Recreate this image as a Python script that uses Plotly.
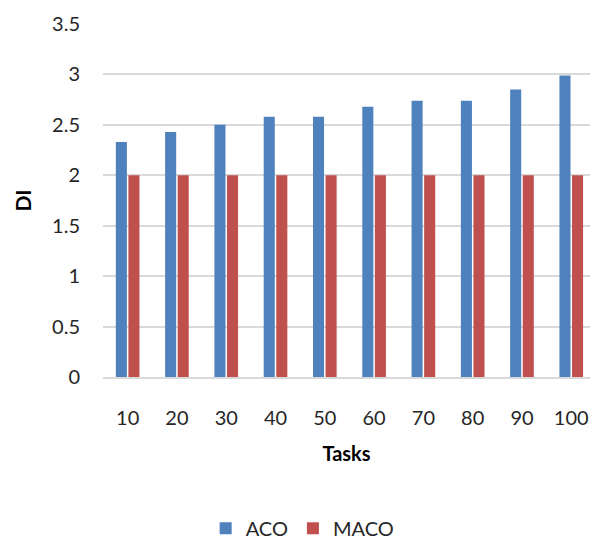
import plotly.graph_objects as go

tasks = ["10", "20", "30", "40", "50", "60", "70", "80", "90", "100"]
aco = [2.33, 2.43, 2.5, 2.58, 2.58, 2.68, 2.74, 2.74, 2.85, 2.99]
maco = [2, 2, 2, 2, 2, 2, 2, 2, 2, 2]
y_ticks = [0, 0.5, 1, 1.5, 2, 2.5, 3, 3.5]
y_tick_text = ["0", "0.5", "1", "1.5", "2", "2.5", "3", "3.5"]

FONT = "Lato, Open Sans, sans-serif"
TXT = "#262626"

fig = go.Figure()
fig.add_trace(go.Bar(x=tasks, y=aco, name="ACO", marker=dict(color="#4F81BD", line=dict(width=0))))
fig.add_trace(go.Bar(x=tasks, y=maco, name="MACO", marker=dict(color="#C0504D", line=dict(width=0))))

fig.update_layout(
    width=590, height=539,
    margin=dict(l=103, r=0, t=24, b=162, autoexpand=False),
    paper_bgcolor="white", plot_bgcolor="white",
    barmode="group", bargap=0.49, bargroupgap=0.12,
    font=dict(family=FONT, size=20, color=TXT),
    showlegend=True,
    legend=dict(orientation="h", xref="container", x=0.513, xanchor="center",
                yref="container", y=0.02, yanchor="middle",
                font=dict(size=20, color=TXT), traceorder="normal"),
    xaxis=dict(type="category", range=[-0.5, 9.38], showgrid=False,
               showline=True, linecolor="#d9d9d9", linewidth=1.5,
               ticks="", ticklabelstandoff=22,
               title=dict(text="<b>Tasks</b>", font=dict(size=20, color="#000000"), standoff=19)),
    yaxis=dict(range=[0, 3.5], tickvals=y_ticks, ticktext=y_tick_text,
               showgrid=True, gridcolor="#d9d9d9", gridwidth=1.5,
               zeroline=False, showline=False, ticks="", ticklabelstandoff=22,
               title=dict(text="<b>DI</b>", font=dict(size=21, color="#000000"), standoff=14)),
)

fig.write_html("out.html")
